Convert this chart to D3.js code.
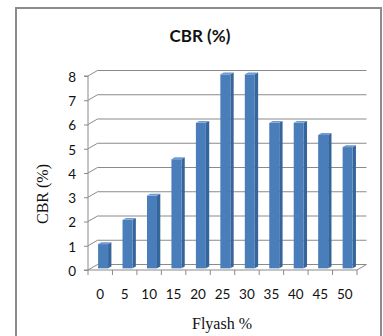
<!DOCTYPE html>
<html>
<head>
<meta charset="utf-8">
<script src="https://cdn.jsdelivr.net/npm/d3@7"></script>
<style>
  html, body { margin: 0; padding: 0; background: #fff; }
  svg { display: block; }
</style>
</head>
<body>
<script>
// CBR values for each fly ash content
const categories = ["0", "5", "10", "15", "20", "25", "30", "35", "40", "45", "50"];
const cbrValues = [1, 2, 3, 4.5, 6, 8, 8, 6, 6, 5.5, 5];
const yTicks = [0, 1, 2, 3, 4, 5, 6, 7, 8];

const W = 383, H = 336;
// oblique depth offset of the 3D box (back wall relative to front plane)
const DX = 9.5, DY = -5.5;
const barFront = 0.3, barBack = 0.65, barWidth = 10;

const svg = d3.select("body").append("svg")
  .attr("width", W).attr("height", H);

// chart area frame
svg.append("rect")
  .attr("x", 16).attr("y", 8).attr("width", 365).attr("height", H)
  .attr("fill", "#fff").attr("stroke", "#8c8c8c").attr("stroke-width", 2);

const x = d3.scaleBand().domain(categories).range([88, 357]).padding(0);
const y = d3.scaleLinear().domain([0, 8]).range([270, 76]);

const gridColor = "#8a8a8a";

// back-wall gridlines with their diagonal connectors to the front axis
const grid = svg.append("g").attr("fill", "none").attr("stroke", gridColor).attr("stroke-width", 1);
yTicks.forEach(t => {
  const yy = y(t);
  grid.append("path")
    .attr("d", `M${x.range()[0]},${yy}L${x.range()[0] + DX},${yy + DY}L${x.range()[1] + DX},${yy + DY}`);
});

// floor outline
const xr = x.range();
grid.append("path")
  .attr("d", `M${xr[1]},${y(0)}L${xr[1] + DX},${y(0) + DY}`);
grid.append("line")
  .attr("x1", xr[0]).attr("x2", xr[1]).attr("y1", y(0)).attr("y2", y(0));

// bars
const bars = svg.append("g");
const dd = barBack - barFront;
categories.forEach((c, i) => {
  const v = cbrValues[i];
  const x0 = x(c) + x.bandwidth() / 2 - barWidth / 2 + barFront * DX;
  const x1 = x0 + barWidth;
  const yT = y(v) + barFront * DY;
  const yB = y(0) + barFront * DY;
  const ox = dd * DX, oy = dd * DY;
  bars.append("polygon")
    .attr("points", [[x1, yT], [x1 + ox, yT + oy], [x1 + ox, yB + oy], [x1, yB]].join(" "))
    .attr("fill", "#36659c");
  bars.append("rect")
    .attr("x", x0).attr("y", yT).attr("width", barWidth).attr("height", yB - yT)
    .attr("fill", "#4a7ebb");
  bars.append("polygon")
    .attr("points", [[x0, yT], [x1, yT], [x1 + ox, yT + oy], [x0 + ox, yT + oy]].join(" "))
    .attr("fill", "#6f9bd2");
});

// y axis
const yAxis = svg.append("g")
  .attr("transform", `translate(${xr[0]},0)`)
  .call(d3.axisLeft(y).tickValues(yTicks).tickSize(4).tickPadding(8).tickFormat(d3.format("d")));
yAxis.select(".domain").attr("stroke", gridColor).attr("d", `M-4,${y(8)}H0V${y(0)}H-4`);
yAxis.selectAll(".tick line").attr("stroke", gridColor);
yAxis.selectAll(".tick text")
  .attr("font-family", "Lato, 'Open Sans', sans-serif")
  .attr("font-size", 13.5).attr("fill", "#111").attr("dy", "0.4em");

// x axis ticks at category boundaries and labels
const xTickPos = categories.map(c => x(c)).concat([xr[1]]);
svg.append("g").selectAll("line").data(xTickPos).join("line")
  .attr("x1", d => d).attr("x2", d => d)
  .attr("y1", y(0)).attr("y2", y(0) + 5)
  .attr("stroke", gridColor);
svg.append("g").selectAll("text").data(categories).join("text")
  .attr("x", d => x(d) + x.bandwidth() / 2)
  .attr("y", 299)
  .attr("text-anchor", "middle")
  .attr("font-family", "Lato, 'Open Sans', sans-serif")
  .attr("font-size", 13.5).attr("fill", "#111")
  .text(d => d);

// titles
svg.append("text")
  .attr("x", 200).attr("y", 42).attr("text-anchor", "middle")
  .attr("font-family", "Lato, 'Open Sans', sans-serif").attr("font-weight", "bold")
  .attr("font-size", 17).attr("fill", "#111")
  .text("CBR (%)");

svg.append("text")
  .attr("transform", "translate(48,194) rotate(-90)")
  .attr("text-anchor", "middle")
  .attr("font-family", "'Liberation Serif', 'DejaVu Serif', serif")
  .attr("font-size", 16).attr("fill", "#111")
  .text("CBR (%)");

svg.append("text")
  .attr("x", 222).attr("y", 329).attr("text-anchor", "middle")
  .attr("font-family", "'Liberation Serif', 'DejaVu Serif', serif")
  .attr("font-size", 16).attr("fill", "#111")
  .text("Flyash %");
</script>
</body>
</html>
